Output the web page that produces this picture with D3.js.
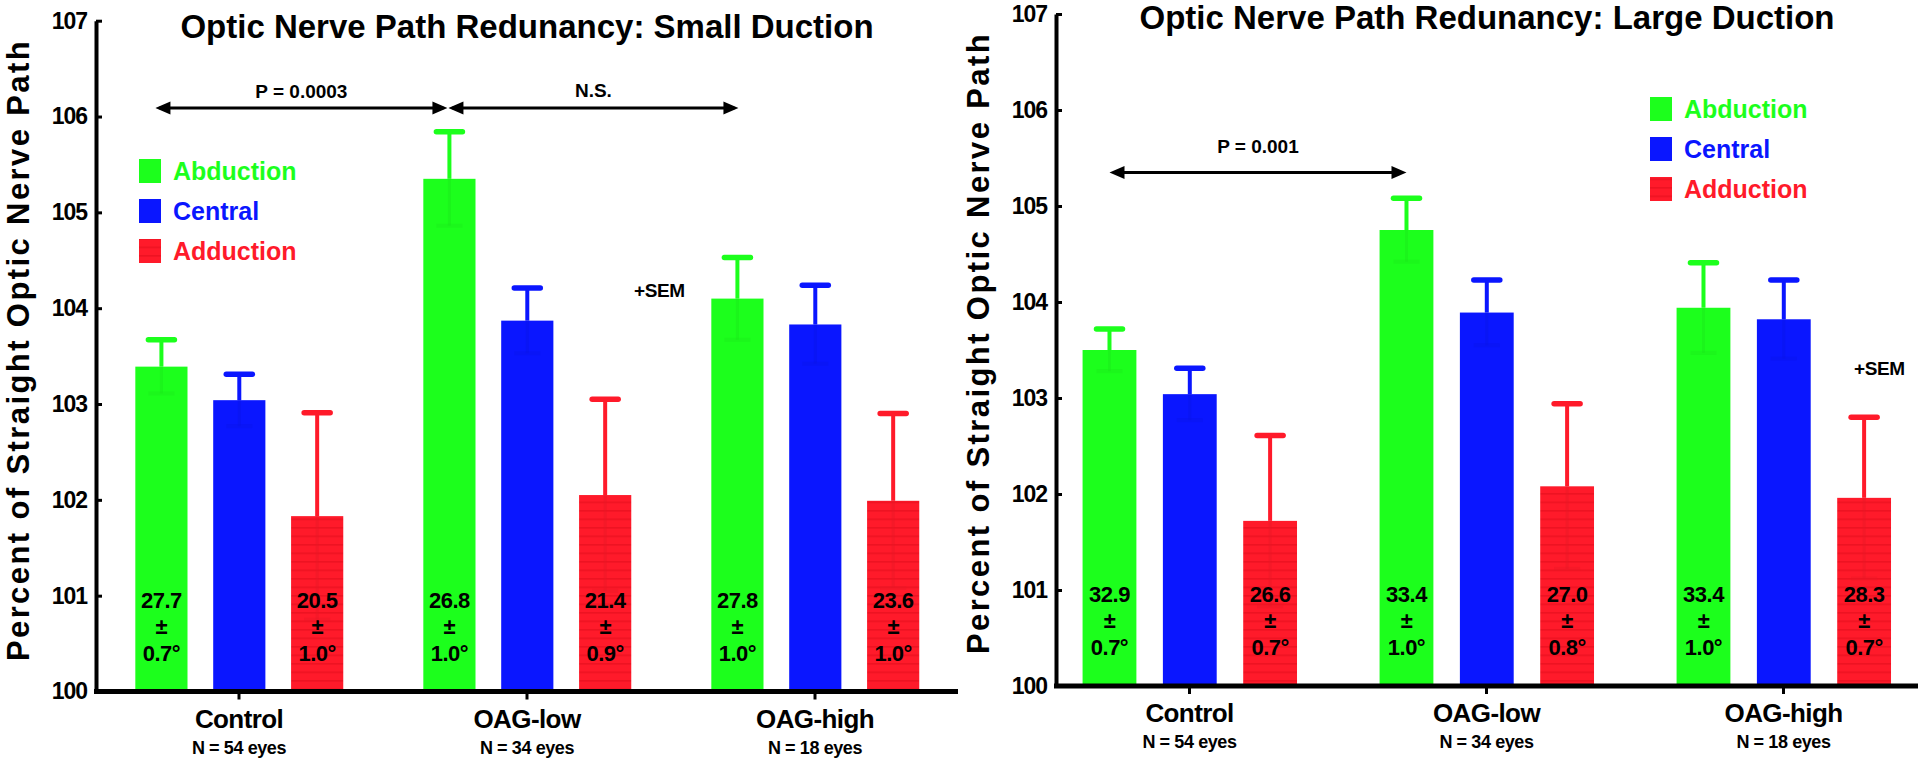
<!DOCTYPE html>
<html>
<head>
<meta charset="utf-8">
<script src="https://cdnjs.cloudflare.com/ajax/libs/d3/7.8.5/d3.min.js"></script>
<style>
  body { margin: 0; background: #fff; }
  svg text { font-family: "Liberation Sans", Arial, sans-serif; font-weight: bold; }
</style>
</head>
<body>
<script>

// ---- data ----
var groups = ["Control", "OAG-low", "OAG-high"];
var groupN = ["N = 54 eyes", "N = 34 eyes", "N = 18 eyes"];
var series = ["Abduction", "Central", "Adduction"];
var yTicks = [100, 101, 102, 103, 104, 105, 106, 107];

// small duction panel
var smallAbduction    = [103.39, 105.35, 104.10];
var smallCentral      = [103.04, 103.87, 103.83];
var smallAdduction    = [101.83, 102.05, 101.99];
var smallAbductionSem = [0.28, 0.49, 0.43];
var smallCentralSem   = [0.27, 0.34, 0.41];
var smallAdductionSem = [1.08, 1.00, 0.91];
var smallAbductionAngle = ["27.7", "26.8", "27.8"];
var smallAbductionSd    = ["0.7°", "1.0°", "1.0°"];
var smallAdductionAngle = ["20.5", "21.4", "23.6"];
var smallAdductionSd    = ["1.0°", "0.9°", "1.0°"];

// large duction panel
var largeAbduction    = [103.50, 104.75, 103.94];
var largeCentral      = [103.04, 103.89, 103.82];
var largeAdduction    = [101.72, 102.08, 101.96];
var largeAbductionSem = [0.22, 0.33, 0.47];
var largeCentralSem   = [0.27, 0.34, 0.41];
var largeAdductionSem = [0.89, 0.86, 0.84];
var largeAbductionAngle = ["32.9", "33.4", "33.4"];
var largeAbductionSd    = ["0.7°", "1.0°", "1.0°"];
var largeAdductionAngle = ["26.6", "27.0", "28.3"];
var largeAdductionSd    = ["0.7°", "0.8°", "0.7°"];

var colors = { "Abduction": "#1cff1c", "Central": "#0a16ff", "Adduction": "#ff1a2a" };

var svg = d3.select("body").append("svg")
    .attr("width", 1920)
    .attr("height", 763);

// red bars have faint horizontal stripes
var pat = svg.append("defs").append("pattern")
    .attr("id", "stripes")
    .attr("patternUnits", "userSpaceOnUse")
    .attr("width", 10).attr("height", 8.5);
pat.append("rect").attr("width", 10).attr("height", 8.5).attr("fill", colors.Adduction);
pat.append("rect").attr("width", 10).attr("height", 1.6).attr("fill", "#e8101e").attr("opacity", 0.7);

function fillFor(s) {
  return s === "Adduction" ? "url(#stripes)" : colors[s];
}

function drawPanel(p) {
  var g = svg.append("g");

  var y = d3.scaleLinear().domain([100, 107]).range([p.y100, p.y107]);
  var x0 = d3.scaleBand().domain(groups).range(p.bandRange);
  var step = x0.bandwidth();
  var x1 = d3.scaleBand().domain(series).range([0.14 * step, 0.862 * step]).paddingInner(0.33);
  var bw = x1.bandwidth();

  // bars
  groups.forEach(function(grp, i) {
    series.forEach(function(s, k) {
      var m = p.means[k][i];
      var sem = p.sems[k][i];
      var cx = x0(grp) + x1(s) + bw / 2;
      g.append("rect")
        .attr("x", x0(grp) + x1(s))
        .attr("y", y(m))
        .attr("width", bw)
        .attr("height", y(100) - y(m))
        .attr("fill", fillFor(s));

      // error bar: lower half shows faintly through bar, upper half + cap solid
      var c = d3.color(colors[s]);
      var dark = c.darker(0.25).formatHex();
      g.append("line")
        .attr("x1", cx).attr("x2", cx)
        .attr("y1", y(m)).attr("y2", y(m - sem))
        .attr("stroke", dark).attr("stroke-width", 3).attr("opacity", 0.45);
      g.append("line")
        .attr("x1", cx - 13).attr("x2", cx + 13)
        .attr("y1", y(m - sem)).attr("y2", y(m - sem))
        .attr("stroke", dark).attr("stroke-width", 4).attr("opacity", 0.35);
      g.append("line")
        .attr("x1", cx).attr("x2", cx)
        .attr("y1", y(m)).attr("y2", y(m + sem))
        .attr("stroke", colors[s]).attr("stroke-width", 4);
      g.append("line")
        .attr("x1", cx - 13).attr("x2", cx + 13)
        .attr("y1", y(m + sem)).attr("y2", y(m + sem))
        .attr("stroke", colors[s]).attr("stroke-width", 5.5)
        .attr("stroke-linecap", "round");

      // angle labels inside abduction/adduction bars
      var ang = s === "Abduction" ? p.abdAngle : (s === "Adduction" ? p.addAngle : null);
      var sd = s === "Abduction" ? p.abdSd : (s === "Adduction" ? p.addSd : null);
      if (ang) {
        var lines = [ang[i], "±", sd[i]];
        var offs = [-84, -58, -31];
        lines.forEach(function(t, j) {
          g.append("text")
            .attr("x", cx)
            .attr("y", y(100) + offs[j])
            .attr("text-anchor", "middle")
            .attr("font-size", 22)
            .attr("letter-spacing", -0.5)
            .attr("fill", "#000")
            .text(t);
        });
      }
    });
  });

  // y axis
  var yAxis = g.append("g")
    .attr("transform", "translate(" + p.axisX + ",0)")
    .call(d3.axisLeft(y).tickValues(yTicks).tickFormat(d3.format("d"))
      .tickSizeInner(-6).tickSizeOuter(0).tickPadding(9));
  yAxis.select(".domain").attr("stroke", "#000").attr("stroke-width", 4);
  yAxis.selectAll(".tick line").attr("stroke", "#000").attr("stroke-width", 3);
  yAxis.selectAll(".tick text")
    .attr("font-size", 23).attr("letter-spacing", -1)
    .attr("font-family", "'Liberation Sans', Arial, sans-serif")
    .attr("font-weight", "bold").attr("fill", "#000");

  // x axis: long baseline, ticks at group centres
  var xAxis = g.append("g")
    .attr("transform", "translate(0," + y(100) + ")")
    .call(d3.axisBottom(x0).tickSize(8).tickPadding(10));
  xAxis.select(".domain").remove();
  xAxis.selectAll(".tick line").attr("stroke", "#000").attr("stroke-width", 3);
  xAxis.selectAll(".tick text")
    .attr("font-size", 26).attr("letter-spacing", -0.6)
    .attr("font-family", "'Liberation Sans', Arial, sans-serif")
    .attr("font-weight", "bold").attr("fill", "#000");
  g.append("line")
    .attr("x1", p.axisX - 2).attr("x2", p.xEnd)
    .attr("y1", y(100)).attr("y2", y(100))
    .attr("stroke", "#000").attr("stroke-width", 5);

  groups.forEach(function(grp, i) {
    g.append("text")
      .attr("x", x0(grp) + step / 2)
      .attr("y", y(100) + 62)
      .attr("text-anchor", "middle")
      .attr("font-size", 18)
      .attr("letter-spacing", -0.4)
      .text(groupN[i]);
  });

  // axis title
  g.append("text")
    .attr("transform", "translate(" + p.yTitleX + "," + p.yTitleY + ") rotate(-90)")
    .attr("text-anchor", "middle")
    .attr("font-size", 31)
    .attr("letter-spacing", 2.4)
    .text("Percent of Straight Optic Nerve Path");

  // chart title
  g.append("text")
    .attr("x", p.titleX).attr("y", p.titleY)
    .attr("text-anchor", "middle")
    .attr("font-size", 33)
    .text(p.title);

  // legend
  series.forEach(function(s, k) {
    var ly = p.legendY + k * 40;
    g.append("rect")
      .attr("x", p.legendX).attr("y", ly)
      .attr("width", 22).attr("height", 24)
      .attr("fill", fillFor(s));
    g.append("text")
      .attr("x", p.legendX + 34).attr("y", ly + 21)
      .attr("font-size", 25)
      .attr("fill", colors[s])
      .text(s);
  });

  // significance arrows between abduction bars
  p.arrows.forEach(function(a) {
    var xa = x0(a.from) + x1("Abduction") + bw / 2 + a.dx1;
    var xb = x0(a.to) + x1("Abduction") + bw / 2 + a.dx2;
    var ay = y(a.level);
    g.append("line")
      .attr("x1", xa + 4).attr("x2", xb - 4)
      .attr("y1", ay).attr("y2", ay)
      .attr("stroke", "#000").attr("stroke-width", 3);
    g.append("path")
      .attr("d", "M" + xa + "," + ay + "L" + (xa + 15) + "," + (ay - 6.5) + "L" + (xa + 15) + "," + (ay + 6.5) + "Z")
      .attr("fill", "#000");
    g.append("path")
      .attr("d", "M" + xb + "," + ay + "L" + (xb - 15) + "," + (ay - 6.5) + "L" + (xb - 15) + "," + (ay + 6.5) + "Z")
      .attr("fill", "#000");
    g.append("text")
      .attr("x", (xa + xb) / 2).attr("y", ay - a.labelGap)
      .attr("text-anchor", "middle")
      .attr("font-size", 19)
      .text(a.label);
  });

  g.append("text")
    .attr("x", p.semX).attr("y", p.semY)
    .attr("font-size", 19)
    .attr("letter-spacing", -0.4)
    .text("+SEM");
}

drawPanel({
  title: "Optic Nerve Path Redunancy: Small Duction",
  means: [smallAbduction, smallCentral, smallAdduction],
  sems: [smallAbductionSem, smallCentralSem, smallAdductionSem],
  abdAngle: smallAbductionAngle, abdSd: smallAbductionSd,
  addAngle: smallAdductionAngle, addSd: smallAdductionSd,
  axisX: 96, y100: 691.5, y107: 20.7,
  bandRange: [95, 959], xEnd: 958,
  titleX: 527, titleY: 38,
  yTitleX: 29, yTitleY: 350,
  legendX: 139, legendY: 159,
  semX: 634, semY: 297,
  arrows: [
    { from: "Control", to: "OAG-low", level: 106.09, label: "P = 0.0003", labelGap: 10, dx1: -6, dx2: -2 },
    { from: "OAG-low", to: "OAG-high", level: 106.09, label: "N.S.", labelGap: 11, dx1: -1, dx2: 1 }
  ]
});

drawPanel({
  title: "Optic Nerve Path Redunancy: Large Duction",
  means: [largeAbduction, largeCentral, largeAdduction],
  sems: [largeAbductionSem, largeCentralSem, largeAdductionSem],
  abdAngle: largeAbductionAngle, abdSd: largeAbductionSd,
  addAngle: largeAdductionAngle, addSd: largeAdductionSd,
  axisX: 1056, y100: 686, y107: 14,
  bandRange: [1041, 1932], xEnd: 1918,
  titleX: 1487, titleY: 29,
  yTitleX: 989, yTitleY: 343,
  legendX: 1650, legendY: 97,
  semX: 1854, semY: 375,
  arrows: [
    { from: "Control", to: "OAG-low", level: 105.35, label: "P = 0.001", labelGap: 19, dx1: 0, dx2: 0 }
  ]
});

</script>
</body>
</html>
